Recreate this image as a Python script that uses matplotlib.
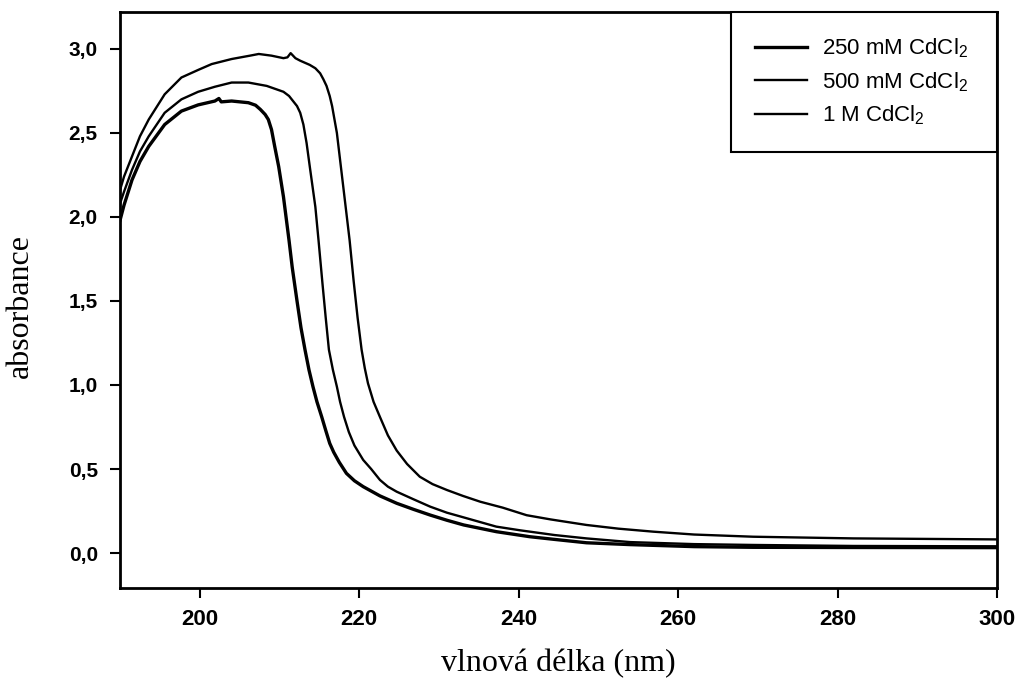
import matplotlib
matplotlib.use("Agg")
import matplotlib.pyplot as plt

# ---- data ----
wl_250 = [190.0, 190.5, 191.5, 192.5, 193.6, 195.6, 197.7, 199.8, 201.9, 202.4, 202.7, 204.0,
          206.1, 207.0, 207.6, 208.2, 208.6, 209.0, 209.4, 209.9, 210.5, 211.2, 211.6, 212.2,
          212.7, 213.2, 213.7, 214.2, 214.7, 215.3, 215.8, 216.3, 216.8, 217.5, 218.4, 219.4,
          220.5, 222.6, 224.7, 226.8, 228.9, 231.0, 233.1, 237.2, 241.4, 244.5, 248.5, 254.0,
          262.0, 269.4, 280.0, 300.0]
abs_250 = [1.98, 2.07, 2.22, 2.33, 2.42, 2.55, 2.63, 2.667, 2.69, 2.705, 2.685, 2.69,
           2.68, 2.665, 2.64, 2.61, 2.58, 2.52, 2.42, 2.30, 2.12, 1.86, 1.70, 1.50,
           1.34, 1.21, 1.09, 0.99, 0.90, 0.81, 0.73, 0.653, 0.60, 0.54, 0.474, 0.43,
           0.395, 0.34, 0.296, 0.26, 0.226, 0.195, 0.167, 0.127, 0.097, 0.081, 0.061, 0.050,
           0.038, 0.034, 0.033, 0.032]

wl_500 = [190.0, 190.5, 191.5, 192.5, 193.6, 195.6, 197.7, 199.8, 201.9, 204.0, 206.1, 208.4,
          210.5, 211.2, 211.7, 212.2, 212.6, 213.0, 213.4, 213.8, 214.5, 214.9, 215.4, 215.8,
          216.2, 216.7, 217.2, 217.6, 218.1, 218.7, 219.4, 220.5, 221.5, 222.6, 223.6, 224.7,
          226.8, 228.9, 231.0, 233.1, 237.2, 240.2, 244.5, 248.5, 254.0, 262.0, 269.4, 282.0,
          300.0]
abs_500 = [2.08, 2.15, 2.28, 2.39, 2.48, 2.62, 2.70, 2.745, 2.775, 2.80, 2.80, 2.78,
           2.745, 2.72, 2.69, 2.66, 2.62, 2.55, 2.44, 2.30, 2.06, 1.86, 1.60, 1.40,
           1.21, 1.09, 0.99, 0.90, 0.81, 0.72, 0.64, 0.554, 0.50, 0.435, 0.395, 0.365,
           0.32, 0.276, 0.24, 0.212, 0.157, 0.135, 0.107, 0.087, 0.065, 0.053, 0.048, 0.042,
           0.040]

wl_1M = [190.0, 190.5, 191.5, 192.5, 193.6, 195.6, 197.7, 199.8, 201.5, 204.0, 206.3, 207.4,
         209.0, 210.5, 211.0, 211.4, 212.0, 212.6, 213.8, 214.5, 215.1, 215.5, 215.9, 216.3,
         216.6, 217.2, 217.8, 218.4, 218.8, 219.3, 219.8, 220.3, 220.7, 221.1, 221.8, 222.6,
         223.6, 224.7, 226.0, 227.6, 229.2, 231.0, 233.0, 235.2, 238.0, 241.0, 244.0, 248.5,
         252.5, 256.9, 262.0, 269.4, 282.0, 300.0]
abs_1M = [2.16, 2.24, 2.36, 2.48, 2.58, 2.73, 2.83, 2.875, 2.91, 2.94, 2.96, 2.97,
          2.96, 2.945, 2.95, 2.975, 2.945, 2.93, 2.905, 2.885, 2.855, 2.82, 2.78, 2.72,
          2.66, 2.50, 2.26, 2.02, 1.86, 1.62, 1.40, 1.21, 1.10, 1.01, 0.90, 0.81,
          0.70, 0.61, 0.53, 0.454, 0.41, 0.375, 0.34, 0.305, 0.27, 0.225, 0.20, 0.167,
          0.145, 0.127, 0.11, 0.097, 0.087, 0.081]

labels = [r"250 mM CdCl$\mathregular{_2}$", r"500 mM CdCl$\mathregular{_2}$", r"1 M CdCl$\mathregular{_2}$"]

x_ticks = [200, 220, 240, 260, 280, 300]
x_tick_labels = ["200", "220", "240", "260", "280", "300"]
y_ticks = [0.0, 0.5, 1.0, 1.5, 2.0, 2.5, 3.0]
y_tick_labels = ["0,0", "0,5", "1,0", "1,5", "2,0", "2,5", "3,0"]

# ---- figure ----
plt.rcParams["font.family"] = ["Liberation Sans", "DejaVu Sans"]

fig = plt.figure(figsize=(10.18, 6.84), dpi=100)
ax = fig.add_axes([0.1179, 0.1404, 0.9794 - 0.1179, 0.9825 - 0.1404])

ax.plot(wl_250, abs_250, color="black", lw=2.4, label=labels[0])
ax.plot(wl_500, abs_500, color="black", lw=1.7, label=labels[1])
ax.plot(wl_1M, abs_1M, color="black", lw=1.7, label=labels[2])

ax.set_xlim(190, 300)
ax.set_ylim(-0.208, 3.22)

ax.set_xticks(x_ticks)
ax.set_xticklabels(x_tick_labels, fontsize=16, fontweight="bold")
ax.set_yticks(y_ticks)
ax.set_yticklabels(y_tick_labels, fontsize=15, fontweight="bold")
ax.tick_params(axis="both", direction="out", length=7, width=1.5, color="black")
ax.tick_params(axis="x", pad=8)
ax.tick_params(axis="y", pad=9)

for sp in ax.spines.values():
    sp.set_linewidth(2.0)
    sp.set_color("black")

ax.set_xlabel("vlnová délka (nm)", fontsize=23, family="Liberation Serif")
ax.set_ylabel("absorbance", fontsize=23, family="Liberation Serif")
ax.xaxis.set_label_coords(0.5, -0.105)
ax.yaxis.set_label_coords(-0.097, 0.49)

leg = ax.legend(loc="upper right", bbox_to_anchor=(0.6967, 0.0, 0.3033, 1.0), mode="expand",
                borderaxespad=0.0, fontsize=16, frameon=True, fancybox=False,
                borderpad=1.1, labelspacing=0.45, handlelength=2.3, handletextpad=0.7)
frame = leg.get_frame()
frame.set_edgecolor("black")
frame.set_linewidth(1.5)
frame.set_alpha(1.0)

fig.savefig("out.png", dpi=100)
